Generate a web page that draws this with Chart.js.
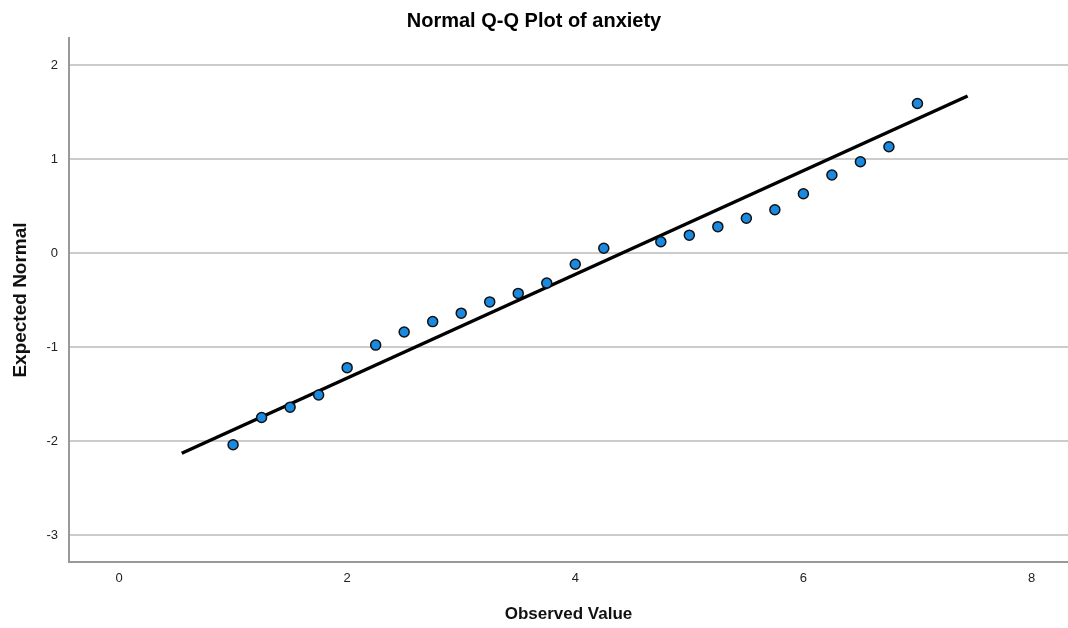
<!DOCTYPE html>
<html>
<head>
<meta charset="utf-8">
<script src="https://cdn.jsdelivr.net/npm/chart.js@4/dist/chart.umd.min.js"></script>
<style>
  body { margin: 0; background: #fff; }
</style>
</head>
<body>
<canvas id="qqChart" width="1068" height="628"></canvas>
<script>
// data ==========
const observed = [1, 1.25, 1.5, 1.75, 2, 2.25, 2.5, 2.75, 3, 3.25, 3.5, 3.75, 4, 4.25,
  4.75, 5, 5.25, 5.5, 5.75, 6, 6.25, 6.5, 6.75, 7];
const expected = [-2.04, -1.75, -1.64, -1.51, -1.22, -0.98, -0.84, -0.73, -0.64, -0.52,
  -0.43, -0.32, -0.12, 0.05, 0.12, 0.19, 0.28, 0.37, 0.46, 0.63, 0.83, 0.97, 1.13, 1.59];
const lineX = [0.55, 7.44];
const lineY = [-2.13, 1.67];
const xTicks = [0, 2, 4, 6, 8];
const yTicks = [-3, -2, -1, 0, 1, 2];

const font = "'Liberation Sans', Arial, sans-serif";

const ctx = document.getElementById("qqChart").getContext("2d");

const qqChart = new Chart(ctx, {
  type: "scatter",
  data: {
    datasets: [
      {
        data: observed.map((x, i) => ({ x: x, y: expected[i] })),
        backgroundColor: "#1a8ae0",
        borderColor: "#111",
        borderWidth: 1.5,
        pointRadius: 5,
        order: 0,
      },
      {
        type: "line",
        data: lineX.map((x, i) => ({ x: x, y: lineY[i] })),
        borderColor: "#000",
        borderWidth: 3.5,
        pointRadius: 0,
        fill: false,
        order: 1,
      },
    ],
  },
  options: {
    responsive: false,
    animation: false,
    layout: { autoPadding: false, padding: 0 },
    plugins: {
      legend: { display: false },
      tooltip: { enabled: false },
      title: {
        display: true,
        text: "Normal Q-Q Plot of anxiety",
        color: "#000",
        font: { family: font, size: 20, weight: "bold" },
        padding: { top: 9, bottom: 5 },
      },
    },
    scales: {
      x: {
        type: "linear",
        min: -0.4386,
        max: 8.32,
        afterBuildTicks: (s) => { s.ticks = xTicks.map((v) => ({ value: v })); },
        afterFit: (s) => { s.height = 66; },
        grid: { display: false, drawTicks: false },
        border: { display: true, color: "#999", width: 2 },
        ticks: { color: "#222", font: { family: font, size: 13 }, padding: 9 },
        title: {
          display: true,
          text: "Observed Value",
          color: "#111",
          font: { family: font, size: 17, weight: "bold" },
          padding: { top: 14, bottom: 3 },
        },
      },
      y: {
        type: "linear",
        min: -3.287,
        max: 2.287,
        afterBuildTicks: (s) => { s.ticks = yTicks.map((v) => ({ value: v })); },
        afterFit: (s) => { s.width = 69; },
        grid: { color: "#cccccc", lineWidth: 2, drawTicks: false },
        border: { display: true, color: "#999", width: 2 },
        ticks: { color: "#222", font: { family: font, size: 13 }, padding: 11 },
        title: {
          display: true,
          text: "Expected Normal",
          color: "#111",
          font: { family: font, size: 19, weight: "bold" },
          padding: { top: 9, bottom: 4 },
        },
      },
    },
  },
});
</script>
</body>
</html>
